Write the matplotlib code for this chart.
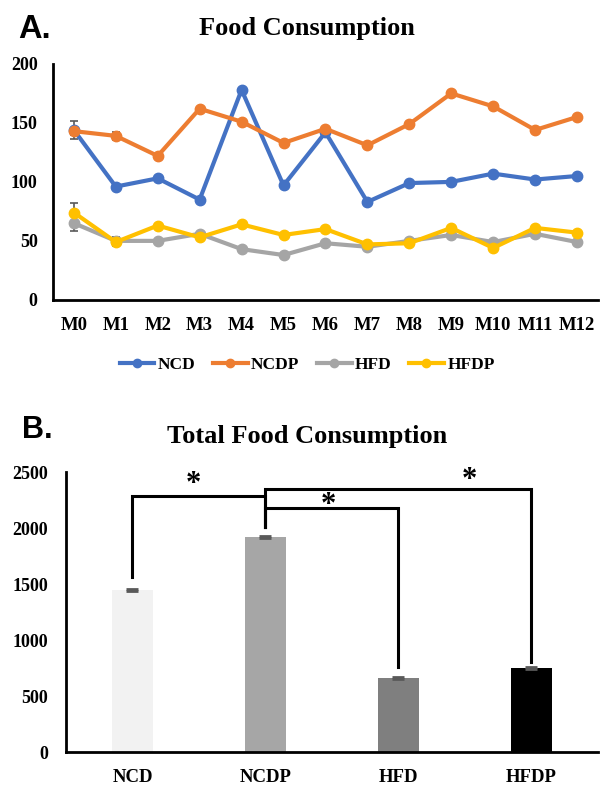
import matplotlib
matplotlib.use('Agg')
import matplotlib.pyplot as plt

# panel A data
months = ['M0', 'M1', 'M2', 'M3', 'M4', 'M5', 'M6', 'M7', 'M8', 'M9', 'M10', 'M11', 'M12']
ncd = [144, 96, 103, 85, 178, 97, 142, 83, 99, 100, 107, 102, 105]
ncdp = [143, 139, 122, 162, 151, 133, 145, 131, 149, 175, 164, 144, 155]
hfd = [65, 50, 50, 56, 43, 38, 48, 45, 50, 55, 49, 56, 49]
hfdp = [74, 49, 63, 53, 64, 55, 60, 47, 48, 61, 44, 61, 57]
ncd_err = [7.5, 2, 1, 1, 1, 1, 1, 1, 1, 1, 1, 1, 1]
ncdp_err = [3, 3.5, 1, 1, 1, 1, 1, 1, 1, 1, 1, 1, 1]
hfd_err = [7, 3, 1, 1, 1, 1, 1, 1, 1, 1, 1, 1, 1]
hfdp_err = [8, 3, 1, 1, 1, 1, 1, 1, 1, 1, 1, 1, 1]

# panel B data
groups = ['NCD', 'NCDP', 'HFD', 'HFDP']
totals = [1450, 1920, 660, 750]
totals_err = [10, 8, 8, 8]
bar_colors = ['#f2f2f2', '#a6a6a6', '#7f7f7f', '#000000']

# significance brackets: (left group, right group, height, left bottom, right bottom)
brackets = [(0, 1, 2286, 1563, 2009),
            (1, 2, 2179, 2009, 759),
            (1, 3, 2348, 2009, 804)]
stars_x = [0.46, 1.47, 2.53]
stars_y = [2390, 2200, 2425]

serif = 'Liberation Serif'
plt.rcParams['font.family'] = serif
plt.rcParams['font.weight'] = 'bold'

fig = plt.figure(figsize=(6.01, 7.85), dpi=100)

# ---- panel A ----
axA = fig.add_axes([0.088, 0.618, 0.907, 0.3006])
series = [('NCD', ncd, ncd_err, '#4472c4'),
          ('NCDP', ncdp, ncdp_err, '#ed7d31'),
          ('HFD', hfd, hfd_err, '#a5a5a5'),
          ('HFDP', hfdp, hfdp_err, '#ffc000')]
x = list(range(len(months)))
handles = []
for name, vals, err, col in series:
    axA.errorbar(x, vals, yerr=err, fmt='none', ecolor='#595959', elinewidth=1.2,
                 capsize=3, capthick=1.2, zorder=2)
    h, = axA.plot(x, vals, color=col, lw=3, marker='o', markersize=7.5, label=name, zorder=3)
    handles.append(h)
axA.set_xlim(-0.5, len(months) - 0.5)
axA.set_ylim(0, 200)
axA.set_yticks([0, 50, 100, 150, 200])
axA.set_xticks(x)
axA.set_xticklabels(months)
for s in ['top', 'right']:
    axA.spines[s].set_visible(False)
for s in ['left', 'bottom']:
    axA.spines[s].set_linewidth(2)
axA.tick_params(axis='y', length=0, pad=11, labelsize=13)
axA.tick_params(axis='x', length=0, pad=12, labelsize=13.5)

fig.legend(handles=handles, loc='center', bbox_to_anchor=(0.511, 0.535), ncol=4,
           frameon=False, fontsize=12.5, handlelength=2.0, handletextpad=0.2,
           columnspacing=1.0, markerscale=0.8)

fig.text(0.511, 0.9554, 'Food Consumption', ha='center', va='baseline', fontsize=19)
fig.text(0.031, 0.9516, 'A.', ha='left', va='baseline', fontsize=23.5,
         family='Liberation Sans', weight='bold')

# ---- panel B ----
axB = fig.add_axes([0.1098, 0.042, 0.885, 0.3567])
xb = list(range(len(groups)))
axB.bar(xb, totals, width=0.31, color=bar_colors, zorder=2)
axB.errorbar(xb, totals, yerr=totals_err, fmt='none', ecolor='#595959', elinewidth=1.2,
             capsize=4, capthick=2, zorder=3)
for i, j, h, bi, bj in brackets:
    axB.plot([i, i, j, j], [bi, h, h, bj], color='black', lw=2.2, zorder=4,
             solid_joinstyle='miter')
for sx, sy in zip(stars_x, stars_y):
    axB.text(sx, sy, '*', ha='center', va='center', fontsize=22)
axB.set_xlim(-0.5, len(groups) - 0.5)
axB.set_ylim(0, 2500)
axB.set_yticks([0, 500, 1000, 1500, 2000, 2500])
axB.set_xticks(xb)
axB.set_xticklabels(groups)
for s in ['top', 'right']:
    axB.spines[s].set_visible(False)
for s in ['left', 'bottom']:
    axB.spines[s].set_linewidth(2)
axB.tick_params(axis='y', length=0, pad=13, labelsize=13)
axB.tick_params(axis='x', length=0, pad=12, labelsize=13.5)

fig.text(0.511, 0.4357, 'Total Food Consumption', ha='center', va='baseline', fontsize=19)
fig.text(0.037, 0.442, 'B.', ha='left', va='baseline', fontsize=22,
         family='Liberation Sans', weight='bold')

fig.savefig('out.png', dpi=100)
